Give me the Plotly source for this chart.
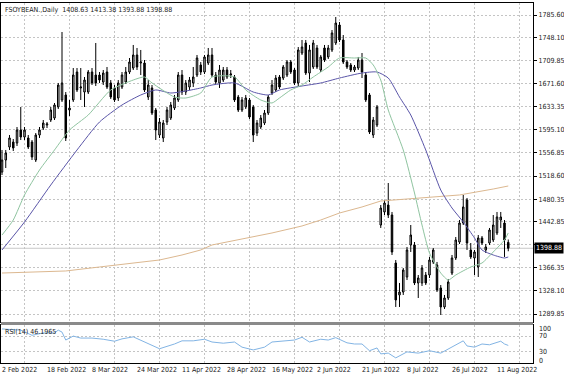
import plotly.graph_objects as go

symbol = "FSOYBEAN.,Daily"

date_labels = ["2 Feb 2022", "18 Feb 2022", "8 Mar 2022", "24 Mar 2022", "11 Apr 2022",
               "28 Apr 2022", "16 May 2022", "2 Jun 2022", "21 Jun 2022", "8 Jul 2022",
               "26 Jul 2022", "11 Aug 2022"]
date_label_bars = [0, 12, 24, 36, 48, 60, 72, 84, 96, 108, 120, 132]
grid_bars = [6, 18, 30, 42, 54, 66, 78, 90, 102, 114, 126, 138]

price_ticks = [1289.85, 1328.10, 1366.35, 1404.60, 1442.85, 1480.35, 1518.60,
               1556.85, 1595.10, 1633.35, 1671.60, 1709.85, 1748.10, 1785.60]

opens = [1525.2, 1545.2, 1566.7, 1575.0, 1573.4, 1594.9, 1583.3, 1581.7, 1575.0, 1545.2,
         1586.6, 1598.2, 1603.2, 1611.5, 1614.8, 1633.1, 1644.7, 1653.0, 1628.1, 1644.7,
         1691.1, 1664.6, 1657.9, 1657.9, 1691.1, 1686.1, 1686.1, 1674.5, 1691.1, 1672.9,
         1664.6, 1648.0, 1666.2, 1674.5, 1691.1, 1697.7, 1719.3, 1706.0, 1706.0, 1649.6,
         1664.6, 1628.1, 1586.6, 1581.7, 1608.2, 1614.8, 1631.4, 1644.7, 1686.1, 1657.9,
         1666.2, 1672.9, 1686.1, 1702.7, 1691.1, 1706.0, 1719.3, 1686.1, 1672.9, 1677.8,
         1694.4, 1686.1, 1682.8, 1649.6, 1628.1, 1633.1, 1644.7, 1633.1, 1589.9, 1599.9,
         1606.5, 1623.1, 1656.3, 1661.3, 1682.8, 1681.1, 1686.1, 1707.7, 1694.4, 1672.9,
         1722.6, 1739.2, 1689.4, 1699.4, 1730.9, 1694.4, 1730.9, 1716.0, 1727.6, 1739.2,
         1769.0, 1744.2, 1707.7, 1702.7, 1694.4, 1697.7, 1711.0, 1686.1, 1653.0, 1586.6,
         1603.2, 1437.4, 1459.0, 1470.6, 1454.0, 1374.4, 1321.4, 1326.3, 1351.2, 1404.3,
         1404.3, 1341.3, 1341.3, 1354.5, 1354.5, 1376.1, 1371.1, 1333.0, 1301.5, 1316.4,
         1357.8, 1382.7, 1409.2, 1440.7, 1478.9, 1396.0, 1382.7, 1367.8, 1415.9, 1396.0,
         1407.6, 1412.6, 1424.2, 1445.7, 1440.7, 1408.63]
highs = [1561.8, 1561.8, 1586.6, 1580.0, 1599.9, 1633.1, 1599.9, 1586.6, 1578.3, 1589.9,
         1599.9, 1611.5, 1608.2, 1633.1, 1639.7, 1672.9, 1757.4, 1657.9, 1644.7, 1697.7,
         1697.7, 1697.7, 1682.8, 1694.4, 1697.7, 1739.2, 1691.1, 1694.4, 1699.4, 1677.8,
         1669.5, 1677.8, 1691.1, 1699.4, 1714.3, 1735.9, 1730.9, 1727.6, 1711.0, 1677.8,
         1669.5, 1631.4, 1614.8, 1611.5, 1633.1, 1641.4, 1653.0, 1691.1, 1694.4, 1677.8,
         1682.8, 1699.4, 1719.3, 1707.7, 1719.3, 1730.9, 1730.9, 1691.1, 1702.7, 1699.4,
         1699.4, 1694.4, 1686.1, 1653.0, 1649.6, 1653.0, 1648.0, 1636.4, 1611.5, 1619.8,
         1628.1, 1653.0, 1677.8, 1686.1, 1686.1, 1702.7, 1711.0, 1711.0, 1697.7, 1732.5,
         1744.2, 1744.2, 1735.9, 1744.2, 1735.9, 1719.3, 1735.9, 1735.9, 1760.7, 1782.3,
         1774.0, 1752.4, 1711.0, 1706.0, 1702.7, 1716.0, 1722.6, 1691.1, 1656.3, 1616.5,
         1636.4, 1470.6, 1478.9, 1507.0, 1459.0, 1379.4, 1341.3, 1366.1, 1401.0, 1437.4,
         1409.2, 1354.5, 1371.1, 1359.5, 1384.4, 1399.3, 1376.1, 1337.9, 1321.4, 1347.9,
         1387.7, 1417.5, 1445.7, 1487.2, 1482.2, 1407.6, 1396.0, 1420.8, 1419.2, 1405.9,
         1432.5, 1454.0, 1459.0, 1459.0, 1445.7, 1413.38]
lows = [1520.3, 1531.9, 1561.8, 1560.1, 1568.4, 1578.3, 1578.3, 1563.4, 1545.2, 1541.9,
        1581.7, 1594.9, 1598.2, 1608.2, 1611.5, 1629.7, 1641.4, 1576.7, 1618.1, 1641.4,
        1657.9, 1644.7, 1633.1, 1654.6, 1669.5, 1667.9, 1672.9, 1669.5, 1662.9, 1646.3,
        1641.4, 1643.0, 1662.9, 1671.2, 1687.8, 1694.4, 1694.4, 1686.1, 1657.9, 1644.7,
        1619.8, 1578.3, 1581.7, 1575.0, 1603.2, 1611.5, 1628.1, 1641.4, 1653.0, 1653.0,
        1661.3, 1666.2, 1682.8, 1686.1, 1687.8, 1702.7, 1682.8, 1671.2, 1664.6, 1674.5,
        1679.5, 1681.1, 1641.4, 1624.8, 1624.8, 1629.7, 1613.2, 1575.0, 1584.9, 1596.6,
        1603.2, 1619.8, 1653.0, 1657.9, 1662.9, 1677.8, 1682.8, 1687.8, 1669.5, 1666.2,
        1719.3, 1686.1, 1674.5, 1696.1, 1696.1, 1691.1, 1707.7, 1712.6, 1724.3, 1735.9,
        1740.8, 1704.4, 1696.1, 1691.1, 1691.1, 1694.4, 1681.1, 1641.4, 1588.3, 1581.7,
        1599.9, 1432.5, 1454.0, 1449.0, 1387.7, 1301.5, 1301.5, 1321.4, 1346.2, 1392.7,
        1337.9, 1316.4, 1336.3, 1337.9, 1349.6, 1372.8, 1326.3, 1288.2, 1298.2, 1313.1,
        1354.5, 1379.4, 1405.9, 1437.4, 1396.0, 1381.1, 1354.5, 1351.2, 1404.3, 1391.0,
        1404.3, 1409.2, 1420.8, 1432.5, 1384.4, 1393.88]
closes = [1545.2, 1556.8, 1581.7, 1565.1, 1594.9, 1583.3, 1594.9, 1566.7, 1550.2, 1586.6,
          1594.9, 1606.5, 1604.9, 1628.1, 1636.4, 1669.5, 1672.9, 1581.7, 1631.4, 1686.1,
          1661.3, 1666.2, 1677.8, 1691.1, 1672.9, 1672.9, 1677.8, 1689.4, 1666.2, 1649.6,
          1644.7, 1672.9, 1686.1, 1691.1, 1707.7, 1719.3, 1699.4, 1707.7, 1661.3, 1669.5,
          1623.1, 1594.9, 1608.2, 1606.5, 1628.1, 1636.4, 1648.0, 1686.1, 1657.9, 1672.9,
          1677.8, 1682.8, 1714.3, 1691.1, 1716.0, 1719.3, 1686.1, 1674.5, 1694.4, 1694.4,
          1682.8, 1687.8, 1644.7, 1628.1, 1644.7, 1648.0, 1616.5, 1586.6, 1606.5, 1614.8,
          1623.1, 1649.6, 1669.5, 1681.1, 1666.2, 1699.4, 1707.7, 1691.1, 1672.9, 1727.6,
          1732.5, 1689.4, 1727.6, 1739.2, 1699.4, 1716.0, 1711.0, 1730.9, 1755.8, 1772.3,
          1744.2, 1707.7, 1699.4, 1694.4, 1699.4, 1711.0, 1691.1, 1644.7, 1591.6, 1611.5,
          1633.1, 1465.6, 1473.9, 1454.0, 1392.7, 1313.1, 1326.3, 1362.8, 1396.0, 1420.8,
          1341.3, 1349.6, 1366.1, 1341.3, 1379.4, 1396.0, 1329.7, 1301.5, 1316.4, 1342.9,
          1382.7, 1412.6, 1440.7, 1467.3, 1407.6, 1384.4, 1392.7, 1415.9, 1407.6, 1401.0,
          1429.1, 1437.4, 1450.7, 1450.7, 1412.6, 1398.88]

fast_ma_bar = [0, 3, 6, 10, 14, 18, 23, 29, 35, 38, 40, 46, 49, 53, 56, 62, 65, 69, 72, 74,
               77, 80, 83, 87, 90, 94, 97, 99, 101, 103, 107, 110, 112, 114, 117, 119, 121,
               125, 128, 131, 134, 135]
fast_ma_val = [1420.8, 1445.7, 1487.2, 1528.6, 1561.8, 1594.9, 1619.8, 1661.3, 1677.8, 1682.8,
               1672.9, 1649.6, 1648.0, 1656.3, 1682.8, 1682.8, 1661.3, 1644.7, 1639.7, 1648.0,
               1661.3, 1669.5, 1682.8, 1699.4, 1714.3, 1714.3, 1714.3, 1702.7, 1677.8, 1628.1,
               1561.8, 1490.5, 1437.4, 1391.0, 1357.8, 1346.2, 1354.5, 1367.8, 1374.4, 1392.7,
               1412.6, 1424.2]

slow_ma_bar = [0, 6, 13, 20, 26, 32, 37, 41, 45, 49, 53, 56, 62, 67, 71, 74, 80, 85, 90, 96,
               100, 103, 106, 109, 113, 117, 120, 123, 126, 128, 131, 134, 135]
slow_ma_val = [1396.0, 1442.4, 1503.7, 1561.8, 1608.2, 1636.4, 1653.0, 1661.3, 1656.3, 1659.6,
               1664.6, 1669.5, 1672.9, 1657.9, 1653.0, 1661.3, 1667.9, 1672.9, 1681.1, 1689.4,
               1691.1, 1681.1, 1649.6, 1619.8, 1561.8, 1495.4, 1465.6, 1442.4, 1415.9, 1396.0,
               1387.7, 1382.7, 1384.4]

long_ma_bar = [0, 8, 17, 26, 35, 42, 48, 53, 56, 65, 72, 80, 85, 90, 96, 101, 113, 122, 131, 135]
long_ma_val = [1357.8, 1359.5, 1361.2, 1367.8, 1374.4, 1379.4, 1387.7, 1396.0, 1404.3, 1415.9,
               1424.2, 1435.8, 1445.7, 1457.3, 1467.3, 1477.2, 1482.2, 1487.2, 1497.1, 1502.1]

rsi_bar = [0, 5, 8, 11, 14, 15, 16, 17, 19, 21, 24, 27, 30, 32, 35, 38, 42, 46, 48, 51,
           54, 56, 59, 62, 64, 67, 70, 72, 75, 78, 80, 82, 85, 87, 89, 92, 94, 96, 98, 100,
           101, 103, 105, 108, 111, 114, 117, 120, 123, 124, 126, 128, 130, 132, 133, 134, 135]
rsi_val = [89.6, 86.5, 72.9, 79.2, 79.2, 86.5, 81.3, 60.4, 70.8, 65.6, 65.6, 62.5, 57.3, 63.5,
           68.8, 55.2, 37.5, 50.0, 58.3, 58.3, 62.5, 55.2, 52.1, 55.2, 41.7, 34.4, 41.7, 55.2,
           58.3, 60.4, 67.7, 55.2, 62.5, 60.4, 66.7, 53.1, 50.0, 50.0, 32.3, 39.6, 24.0, 26.0,
           13.5, 29.2, 26.0, 32.3, 26.0, 41.7, 58.3, 44.8, 41.7, 50.0, 47.9, 54.2, 57.3, 50.0,
           46.1965]
rsi_axis_labels = ["100", "70", "30", "0"]
rsi_label_pos = [90, 70, 30, 6]

bars = list(range(len(opens)))

FONT = "Liberation Sans Narrow, DejaVu Sans Condensed, Liberation Sans, Arial"
TXT = "#1a1a1a"
GRID = "#c4c4c4"

fig = go.Figure()

fig.add_trace(go.Scatter(x=long_ma_bar, y=long_ma_val, mode="lines",
                         line=dict(color="#dcb890", width=1), hoverinfo="skip",
                         xaxis="x", yaxis="y"))
fig.add_trace(go.Scatter(x=slow_ma_bar, y=slow_ma_val, mode="lines",
                         line=dict(color="#5a55a8", width=1, shape="spline", smoothing=0.6),
                         hoverinfo="skip", xaxis="x", yaxis="y"))
fig.add_trace(go.Scatter(x=fast_ma_bar, y=fast_ma_val, mode="lines",
                         line=dict(color="#8fc4a0", width=1, shape="spline", smoothing=0.6),
                         hoverinfo="skip", xaxis="x", yaxis="y"))
fig.add_trace(go.Candlestick(
    x=bars, open=opens, high=highs, low=lows, close=closes,
    increasing=dict(line=dict(color="#000000", width=1), fillcolor="#c8c8c8"),
    decreasing=dict(line=dict(color="#000000", width=1), fillcolor="#000000"),
    whiskerwidth=0, hoverinfo="skip", xaxis="x", yaxis="y"))
fig.add_trace(go.Scatter(x=rsi_bar, y=rsi_val, mode="lines",
                         line=dict(color="#82b4e4", width=1), hoverinfo="skip",
                         xaxis="x2", yaxis="y2"))

main_dom = [0.1139, 1.0]
rsi_dom = [0.0, 0.1056]

axis_common = dict(showline=True, mirror=True, linecolor="#000000", linewidth=1,
                   zeroline=False, automargin=False, fixedrange=True)

# the live-price box covers the 1404.60 grid label, as in the original
price_tick_text = ["" if abs(v - closes[-1]) < 8 else f"{v:.2f}" for v in price_ticks]

fig.update_layout(
    width=564, height=376,
    margin=dict(l=1, r=31, t=3, b=13, pad=0),
    paper_bgcolor="white", plot_bgcolor="white",
    showlegend=False, boxgap=0.42,
    font=dict(family=FONT, size=7, color=TXT),
    xaxis=dict(domain=[0, 1], range=[-0.27, 141.6], anchor="y",
               tickvals=grid_bars, showticklabels=False, ticks="",
               showgrid=True, gridcolor=GRID, griddash="2px,2px", gridwidth=1,
               rangeslider=dict(visible=False), **axis_common),
    yaxis=dict(domain=main_dom, range=[1276.6, 1805.5], anchor="x", side="right",
               tickvals=price_ticks, ticktext=price_tick_text,
               ticks="outside", ticklen=3, tickcolor="#000000",
               tickfont=dict(family=FONT, size=7, color=TXT),
               showgrid=True, gridcolor=GRID, griddash="2px,2px", gridwidth=1,
               **axis_common),
    xaxis2=dict(domain=[0, 1], matches="x", anchor="y2",
                tickvals=grid_bars, showticklabels=False, ticks="",
                showgrid=True, gridcolor=GRID, griddash="2px,2px", gridwidth=1,
                **axis_common),
    yaxis2=dict(domain=rsi_dom, range=[0, 100], anchor="x2", side="right",
                tickvals=[30, 70], showticklabels=False, ticks="",
                showgrid=True, gridcolor=GRID, griddash="2px,2px", gridwidth=1,
                **axis_common),
)

# separator between panes
fig.add_shape(type="rect", xref="paper", yref="paper", x0=0, x1=1,
              y0=rsi_dom[1], y1=main_dom[0], fillcolor="#8a8a8a", line=dict(width=0))

# bid line
fig.add_shape(type="line", xref="paper", yref="y", x0=0, x1=1,
              y0=closes[-1], y1=closes[-1], line=dict(color="#c8c8c8", width=1),
              layer="below")

annotations = []
for lbl, b in zip(date_labels, date_label_bars):
    annotations.append(dict(x=b, xref="x2", y=0, yref="paper", yshift=-7, xshift=-2,
                            xanchor="left", yanchor="middle", text=lbl, showarrow=False,
                            font=dict(family=FONT, size=7, color=TXT)))
for lbl, v in zip(rsi_axis_labels, rsi_label_pos):
    annotations.append(dict(x=1, xref="paper", y=v, yref="y2", xshift=4,
                            xanchor="left", yanchor="middle", text=lbl, showarrow=False,
                            font=dict(family=FONT, size=7, color=TXT)))
annotations.append(dict(
    x=0, xref="paper", y=1, yref="paper", xshift=2, yshift=-1,
    xanchor="left", yanchor="top", showarrow=False,
    text=f"{symbol}  {opens[-1]:.2f} {highs[-1]:.2f} {lows[-1]:.2f} {closes[-1]:.2f}",
    font=dict(family=FONT, size=7, color=TXT)))
annotations.append(dict(
    x=0, xref="paper", y=rsi_dom[1], yref="paper", xshift=2, yshift=-1,
    xanchor="left", yanchor="top", showarrow=False,
    text=f"RSI(14) {rsi_val[-1]:.4f}",
    font=dict(family=FONT, size=7, color=TXT)))
annotations.append(dict(
    x=1, xref="paper", y=closes[-1], yref="y", xshift=1,
    xanchor="left", yanchor="middle", showarrow=False,
    text=f"{closes[-1]:.2f}", bgcolor="#000000", borderpad=1,
    font=dict(family=FONT, size=7, color="#ffffff")))
fig.update_layout(annotations=annotations)

fig.write_html("out.html",
               config={"displayModeBar": False, "staticPlot": True},
               post_script="document.body.style.margin='0';document.body.style.padding='0';"
                           "document.body.style.overflow='hidden';")
